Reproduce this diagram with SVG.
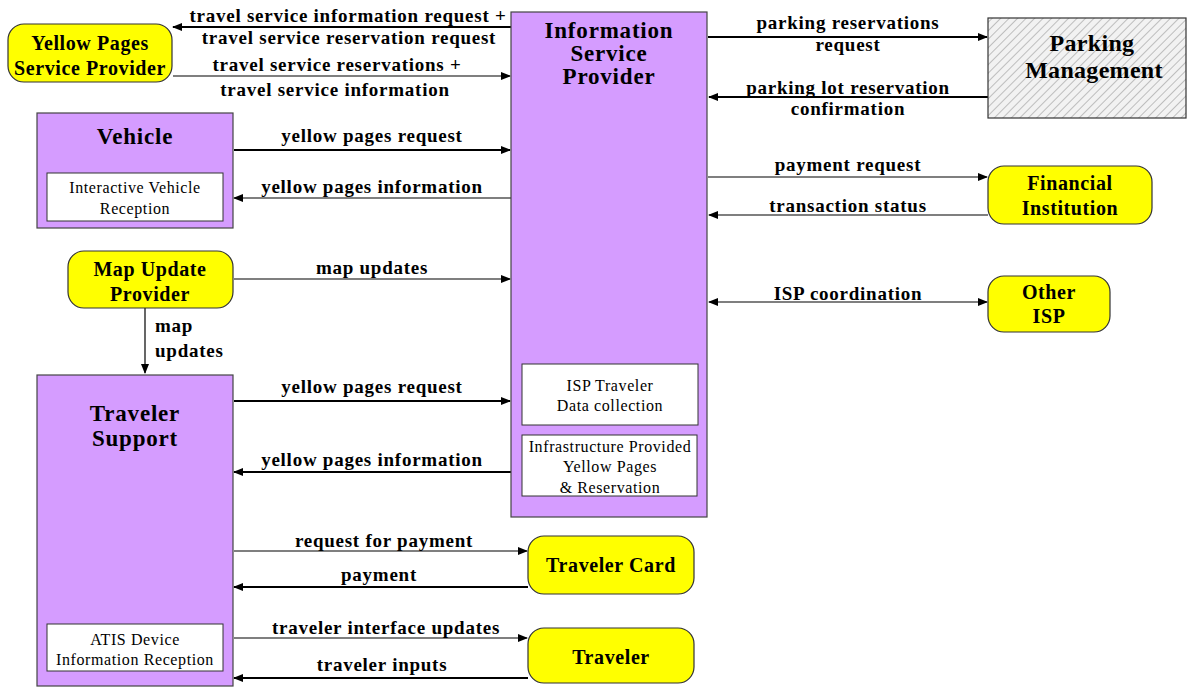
<svg xmlns="http://www.w3.org/2000/svg" width="1194" height="689" viewBox="0 0 1194 689">
  <defs>
    <marker id="arr" viewBox="0 0 10 10" refX="9" refY="5" markerWidth="10" markerHeight="10" markerUnits="userSpaceOnUse" orient="auto-start-reverse">
      <path d="M0,1 L10,5 L0,9 z" fill="#000"/>
    </marker>
    <pattern id="hatch" width="6" height="6" patternUnits="userSpaceOnUse" patternTransform="rotate(45)">
      <rect width="6" height="6" fill="#f2f2f2"/>
      <line x1="0" y1="0" x2="0" y2="6" stroke="#9a9a9a" stroke-width="1.2"/>
    </pattern>
  </defs>
  <style>
    .sys { fill: #d59cff; stroke: #444; stroke-width: 1.2; }
    .term { fill: #ffff00; stroke: #333; stroke-width: 1.2; }
    .inner { fill: #ffffff; stroke: #333; stroke-width: 1; }
    .park { fill: url(#hatch); stroke: #333; stroke-width: 1.2; }
    .lbl { font-family: "Liberation Serif", "Times New Roman", serif; font-weight: bold; font-size: 19px; letter-spacing: 0.75px; fill: #000; text-anchor: middle; }
    .lbl-l { text-anchor: start; }
    .title { font-family: "Liberation Serif", "Times New Roman", serif; font-weight: bold; font-size: 23px; letter-spacing: 0.8px; fill: #000; text-anchor: middle; }
    .big { font-family: "Liberation Serif", "Times New Roman", serif; font-weight: bold; font-size: 24px; letter-spacing: 0.3px; fill: #000; text-anchor: middle; }
    .tname { font-family: "Liberation Serif", "Times New Roman", serif; font-weight: bold; font-size: 20px; letter-spacing: 0.6px; fill: #000; text-anchor: middle; }
    .sub { font-family: "Liberation Serif", "Times New Roman", serif; font-size: 16px; letter-spacing: 0.6px; fill: #000; text-anchor: middle; }
    .thick { stroke: #000; stroke-width: 2.2; fill: none; marker-end: url(#arr); }
    .thin { stroke: #000; stroke-width: 1.2; fill: none; marker-end: url(#arr); }
  </style>

  <!-- connectors and their labels -->
  <g id="connectors">
    <line class="thick" x1="511" y1="27" x2="173" y2="27"/>
    <line class="thin" x1="173" y1="76" x2="510" y2="76"/>
    <line class="thick" x1="708" y1="37" x2="987" y2="37"/>
    <line class="thick" x1="988" y1="97" x2="709" y2="97"/>
    <line class="thick" x1="234" y1="150" x2="510" y2="150"/>
    <line class="thin" x1="511" y1="198" x2="234" y2="198"/>
    <line class="thin" x1="708" y1="177" x2="987" y2="177"/>
    <line class="thin" x1="988" y1="215" x2="709" y2="215"/>
    <line class="thin" x1="234" y1="279" x2="510" y2="279"/>
    <line class="thin" x1="145" y1="308" x2="145" y2="373"/>
    <line class="thin" x1="709" y1="302" x2="987" y2="302" marker-start="url(#arr)"/>
    <line class="thick" x1="234" y1="401" x2="510" y2="401"/>
    <line class="thick" x1="511" y1="472" x2="234" y2="472"/>
    <line class="thin" x1="234" y1="551" x2="527" y2="551"/>
    <line class="thick" x1="528" y1="587" x2="234" y2="587"/>
    <line class="thin" x1="234" y1="638" x2="527" y2="638"/>
    <line class="thick" x1="528" y1="678" x2="234" y2="678"/>

    <text class="lbl" x="348" y="22">travel service information request +</text>
    <text class="lbl" x="349" y="44">travel service reservation request</text>
    <text class="lbl" x="337" y="71">travel service reservations +</text>
    <text class="lbl" x="335" y="96">travel service information</text>
    <text class="lbl" x="848" y="29">parking reservations</text>
    <text class="lbl" x="848" y="51">request</text>
    <text class="lbl" x="848" y="94">parking lot reservation</text>
    <text class="lbl" x="848" y="115">confirmation</text>
    <text class="lbl" x="372" y="142">yellow pages request</text>
    <text class="lbl" x="372" y="193">yellow pages information</text>
    <text class="lbl" x="848" y="171">payment request</text>
    <text class="lbl" x="848" y="212">transaction status</text>
    <text class="lbl" x="372" y="274">map updates</text>
    <text class="lbl lbl-l" x="155" y="332">map</text>
    <text class="lbl lbl-l" x="155" y="357">updates</text>
    <text class="lbl" x="848" y="300">ISP coordination</text>
    <text class="lbl" x="372" y="393">yellow pages request</text>
    <text class="lbl" x="372" y="466">yellow pages information</text>
    <text class="lbl" x="384" y="547">request for payment</text>
    <text class="lbl" x="379" y="581">payment</text>
    <text class="lbl" x="386" y="634">traveler interface updates</text>
    <text class="lbl" x="382" y="671">traveler inputs</text>
  </g>

  <g id="yellow-pages">
    <rect class="term" x="8" y="24" width="164" height="58" rx="16"/>
    <text class="tname" x="90" y="50">Yellow Pages</text>
    <text class="tname" x="90" y="75">Service Provider</text>
  </g>

  <g id="isp">
    <rect class="sys" x="511" y="12" width="196" height="505"/>
    <text class="title" x="609" y="38">Information</text>
    <text class="title" x="609" y="61">Service</text>
    <text class="title" x="609" y="84">Provider</text>
    <rect class="inner" x="522" y="364" width="176" height="61"/>
    <text class="sub" x="610" y="391">ISP Traveler</text>
    <text class="sub" x="610" y="411">Data collection</text>
    <rect class="inner" x="522" y="435" width="175" height="61"/>
    <text class="sub" x="610" y="452">Infrastructure Provided</text>
    <text class="sub" x="610" y="472">Yellow Pages</text>
    <text class="sub" x="610" y="493">&amp; Reservation</text>
  </g>

  <g id="parking">
    <rect class="park" x="988" y="18" width="198" height="100"/>
    <text class="big" x="1092" y="51">Parking</text>
    <text class="big" x="1094" y="78">Management</text>
  </g>

  <g id="vehicle">
    <rect class="sys" x="37" y="113" width="196" height="115"/>
    <text class="title" x="135" y="144">Vehicle</text>
    <rect class="inner" x="47" y="173" width="176" height="48"/>
    <text class="sub" x="135" y="193">Interactive Vehicle</text>
    <text class="sub" x="135" y="214">Reception</text>
  </g>

  <g id="financial">
    <rect class="term" x="988" y="166" width="164" height="58" rx="16"/>
    <text class="tname" x="1070" y="190">Financial</text>
    <text class="tname" x="1070" y="215">Institution</text>
  </g>

  <g id="map-update">
    <rect class="term" x="68" y="251" width="165" height="57" rx="16"/>
    <text class="tname" x="150" y="276">Map Update</text>
    <text class="tname" x="150" y="301">Provider</text>
  </g>

  <g id="other-isp">
    <rect class="term" x="988" y="276" width="122" height="56" rx="16"/>
    <text class="tname" x="1049" y="299">Other</text>
    <text class="tname" x="1049" y="323">ISP</text>
  </g>

  <g id="traveler-support">
    <rect class="sys" x="37" y="375" width="196" height="311"/>
    <text class="title" x="135" y="421">Traveler</text>
    <text class="title" x="135" y="446">Support</text>
    <rect class="inner" x="47" y="624" width="176" height="47"/>
    <text class="sub" x="135" y="645">ATIS Device</text>
    <text class="sub" x="135" y="665">Information Reception</text>
  </g>

  <g id="traveler-card">
    <rect class="term" x="528" y="536" width="166" height="58" rx="16"/>
    <text class="tname" x="611" y="572">Traveler Card</text>
  </g>

  <g id="traveler">
    <rect class="term" x="528" y="628" width="166" height="55" rx="16"/>
    <text class="tname" x="611" y="664">Traveler</text>
  </g>
</svg>
